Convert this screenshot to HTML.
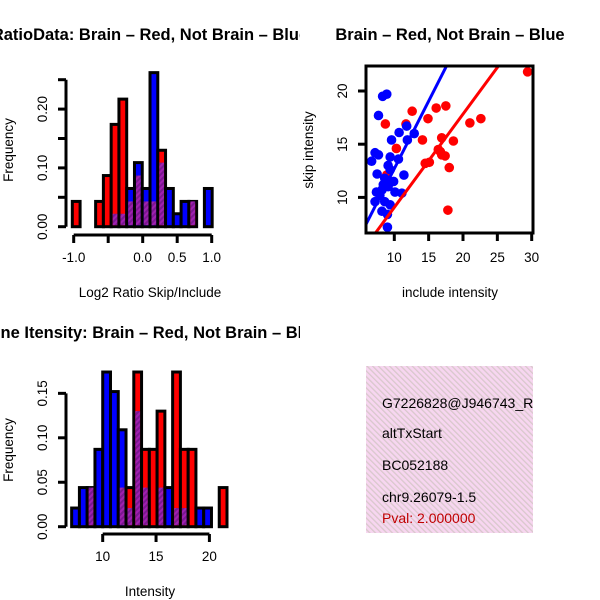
<!DOCTYPE html>
<html><head><meta charset="utf-8"><style>
html,body{margin:0;padding:0;background:#fff;}
svg{display:block;font-family:"Liberation Sans",sans-serif;}
</style></head><body>
<svg id="s" width="600" height="600" viewBox="0 0 600 600" xmlns="http://www.w3.org/2000/svg">
<defs>
<pattern id="hatchP" width="4" height="4" patternUnits="userSpaceOnUse" patternTransform="rotate(45)">
<rect width="4" height="4" fill="#a020b0"/><rect width="2" height="4" fill="#7a1890"/></pattern>
<pattern id="hatchPink" width="4" height="4" patternUnits="userSpaceOnUse" patternTransform="rotate(-45)">
<rect width="4" height="4" fill="#f7d6f0"/><rect width="1.3" height="4" fill="#d9c8cc"/></pattern>
<clipPath id="cTL"><rect x="0" y="0" width="300" height="300"/></clipPath>
<clipPath id="cTR"><rect x="300" y="0" width="300" height="300"/></clipPath>
<clipPath id="cBL"><rect x="0" y="300" width="300" height="300"/></clipPath>
<clipPath id="cBox"><rect x="366" y="66" width="167" height="167"/></clipPath>
<clipPath id="cTxt"><rect x="366" y="366" width="167" height="167"/></clipPath>
</defs>
<g clip-path="url(#cTL)"><text x="150" y="40" text-anchor="middle" font-weight="bold" font-size="16.5">RatioData: Brain – Red, Not Brain – Blue</text></g>
<g clip-path="url(#cTR)"><text x="450" y="40" text-anchor="middle" font-weight="bold" font-size="16.5">Brain – Red, Not Brain – Blue</text></g>
<g clip-path="url(#cBL)"><text x="150" y="338" text-anchor="middle" font-weight="bold" font-size="16.5">Gene Itensity: Brain – Red, Not Brain – Blue</text></g>
<g id="tl"></g><g id="bl"></g><g id="tr"></g>
<g clip-path="url(#cTxt)">
<rect x="366" y="366" width="167" height="167" fill="url(#hatchPink)"/>
<text x="382" y="408" font-size="14">G7226828@J946743_RC</text>
<text x="382" y="438" font-size="14">altTxStart</text>
<text x="382" y="470" font-size="14">BC052188</text>
<text x="382" y="502" font-size="14">chr9.26079-1.5</text>
<text x="382" y="523" font-size="14" fill="#c00000">Pval: 2.000000</text>
</g>
</svg>
<script>
// ---- Ratio histogram data ----
const ratioBinStart = -1.02;
const ratioBinWidth = 0.1126;
const ratioRed  = [0.043,0,0,0.043,0.087,0.174,0.217,0.043,0.087,0.043,0.043,0.130,0,0,0,0.043,0,0];
const ratioBlue = [0,0,0,0,0,0.022,0.022,0.065,0.109,0.065,0.262,0.109,0.065,0.022,0.043,0.043,0,0.065];
const ratioXTicks = [-1.0,-0.5,0,0.5,1.0];
const ratioXLabels = ["-1.0","","0.0","0.5","1.0"];
const ratioYTicks = [0,0.05,0.10,0.15,0.20,0.25];
const ratioYLabels = ["0.00","","0.10","","0.20",""];
// ---- Intensity histogram data ----
const intBinStart = 7.09;
const intBinWidth = 0.728;
const intRed  = [0,0,0.044,0,0,0,0.044,0.044,0.174,0.087,0.087,0.130,0,0.174,0.087,0.087,0,0,0,0.044];
const intBlue = [0.021,0.044,0.044,0.087,0.174,0.152,0.109,0.021,0.130,0.044,0,0.044,0.044,0.021,0.021,0,0.021,0.021,0,0];
const intXTicks = [10,15,20];
const intYTicks = [0,0.05,0.10,0.15];
const intYLabels = ["0.00","0.05","0.10","0.15"];
// ---- Scatter data ----
const redX = [29.4,17.5,16.1,12.6,8.7,11.7,14.9,21.0,22.6,10.3,14.1,16.9,18.6,14.5,15.1,16.4,16.9,17.4,16.7,18.0,17.8,8.9];
const redY = [21.8,18.6,18.4,18.1,16.9,16.9,17.4,17.0,17.4,14.6,15.4,15.6,15.3,13.2,13.3,14.5,14.0,13.9,14.3,12.8,8.8,12.1];
const blueX = [8.9,8.3,7.7,11.8,10.7,12.9,9.6,11.9,7.2,7.7,6.7,9.4,10.6,9.1,7.5,11.4,8.6,9.9,8.4,9.1,7.4,8.2,11.1,10.1,7.2,8.6,9.4,8.2,9.0,9.0,7.9,9.4];
const blueY = [19.7,19.5,17.7,16.7,16.1,16.0,15.4,15.4,14.2,14.0,13.4,13.8,13.6,13.0,12.2,12.1,11.8,11.5,11.2,11.0,10.5,10.7,10.4,10.5,9.6,9.6,9.3,8.7,8.4,7.2,10.2,12.6];
const redFit = [0.29,0.877];   // intercept, slope
const blueFit = [0.0,1.27];
const scXTicks = [10,15,20,25,30];
const scYTicks = [10,15,20];

const NS="http://www.w3.org/2000/svg";
const FS=13.5;
function mk(parent,tag,attrs){const e=document.createElementNS(NS,tag);for(const k in attrs)e.setAttribute(k,attrs[k]);parent.appendChild(e);return e;}

function hist(g,cfg){
  const xs=v=>cfg.x0px+(v-cfg.x0)*cfg.xk, ys=v=>cfg.y0px-v*cfg.yk;
  for(let i=0;i<cfg.red.length;i++){
    const r=cfg.red[i], b=cfg.blue[i];
    const xa=xs(cfg.start+i*cfg.w), xb=xs(cfg.start+(i+1)*cfg.w);
    const hi=Math.max(r,b), lo=Math.min(r,b);
    if(hi<=0) continue;
    const bar=mk(g,'rect',{x:xa,y:ys(hi),width:xb-xa,height:ys(0)-ys(hi),fill:r>=b?'#ff0000':'#0000ff',stroke:'#000','stroke-width':3});
    
    
    if(lo>0){
      const ov=mk(g,'rect',{x:xa+1.5,y:ys(lo),width:xb-xa-3,height:ys(0)-ys(lo)-1.5,fill:'url(#hatchP)'});
      
      
    }
  }
  const yl=mk(g,'line',{x1:66,x2:66,y1:ys(cfg.yT[0]),y2:ys(cfg.yT[cfg.yT.length-1]),stroke:'#000','stroke-width':3});
  
  
  cfg.yT.forEach((v,i)=>{
    mk(g,'line',{x1:58,x2:66,y1:ys(v),y2:ys(v),stroke:'#000','stroke-width':3});
    if(cfg.yL[i]){const t=mk(g,'text',{x:0,y:0,'font-size':FS,'text-anchor':'middle',transform:`translate(47,${ys(v)}) rotate(-90)`});t.textContent=cfg.yL[i];
      
      }
  });
  const xl=mk(g,'line',{x1:xs(cfg.xT[0]),x2:xs(cfg.xT[cfg.xT.length-1]),y1:cfg.xAxisY,y2:cfg.xAxisY,stroke:'#000','stroke-width':3});
  
  
  cfg.xT.forEach((v,i)=>{
    mk(g,'line',{x1:xs(v),x2:xs(v),y1:cfg.xAxisY,y2:cfg.xAxisY+8,stroke:'#000','stroke-width':3});
    if(cfg.xL[i]){const t=mk(g,'text',{x:xs(v),y:cfg.xAxisY+27,'font-size':FS,'text-anchor':'middle'});t.textContent=cfg.xL[i];
      
      }
  });
  const xt=mk(g,'text',{x:150,y:cfg.xAxisY+62,'font-size':FS,'text-anchor':'middle'});xt.textContent=cfg.xTitle;
  
  
  const yt=mk(g,'text',{x:0,y:0,'font-size':FS,'text-anchor':'middle',transform:`translate(13,${cfg.yTitleY}) rotate(-90)`});yt.textContent='Frequency';
  
  
}

hist(document.getElementById('tl'),{name:'ratio',red:ratioRed,blue:ratioBlue,start:ratioBinStart,w:ratioBinWidth,
  x0:0,x0px:142.7,xk:69,y0px:226.7,yk:588,xT:ratioXTicks,xL:ratioXLabels,yT:ratioYTicks,yL:ratioYLabels,
  xAxisY:235,xTitle:'Log2 Ratio Skip/Include',yTitleY:150});
hist(document.getElementById('bl'),{name:'intensity',red:intRed,blue:intBlue,start:intBinStart,w:intBinWidth,
  x0:10,x0px:102.7,xk:10.67,y0px:526.7,yk:889,xT:intXTicks,xL:intXTicks.map(String),yT:intYTicks,yL:intYLabels,
  xAxisY:534,xTitle:'Intensity',yTitleY:450});

(function(){
  const g=document.getElementById('tr');
  const xs=v=>394.3+(v-10)*6.87, ys=v=>91-(v-20)*10.64;
  const pts=mk(g,'g',{'clip-path':'url(#cBox)'});
  
  
  redX.forEach((x,i)=>{const c=mk(pts,'circle',{cx:xs(x),cy:ys(redY[i]),r:4.8,fill:'#ff0000'});
    
    });
  blueX.forEach((x,i)=>{const c=mk(pts,'circle',{cx:xs(x),cy:ys(blueY[i]),r:4.8,fill:'#0000ff'});
    
    });
  [[blueFit,'#0000ff','not-brain-fit-line'],[redFit,'#ff0000','brain-fit-line']].forEach(([f,col,nm])=>{
    const l=mk(pts,'line',{x1:xs(0),y1:ys(f[0]),x2:xs(40),y2:ys(f[0]+f[1]*40),stroke:col,'stroke-width':3});
    
    
  });
  const box=mk(g,'rect',{x:366,y:66,width:167,height:167,fill:'none',stroke:'#000','stroke-width':3});
  
  
  scXTicks.forEach(v=>{
    mk(g,'line',{x1:xs(v),x2:xs(v),y1:233,y2:241,stroke:'#000','stroke-width':3});
    const t=mk(g,'text',{x:xs(v),y:262,'font-size':FS,'text-anchor':'middle'});t.textContent=v;
    
    
  });
  scYTicks.forEach(v=>{
    mk(g,'line',{x1:358,x2:366,y1:ys(v),y2:ys(v),stroke:'#000','stroke-width':3});
    const t=mk(g,'text',{x:0,y:0,'font-size':FS,'text-anchor':'middle',transform:`translate(347,${ys(v)}) rotate(-90)`});t.textContent=v;
    
    
  });
  const xt=mk(g,'text',{x:450,y:297,'font-size':FS,'text-anchor':'middle'});xt.textContent='include intensity';
  
  
  const yt=mk(g,'text',{x:0,y:0,'font-size':FS,'text-anchor':'middle',transform:'translate(313,150) rotate(-90)'});yt.textContent='skip intensity';
  
  
})();
</script>
</body></html>
